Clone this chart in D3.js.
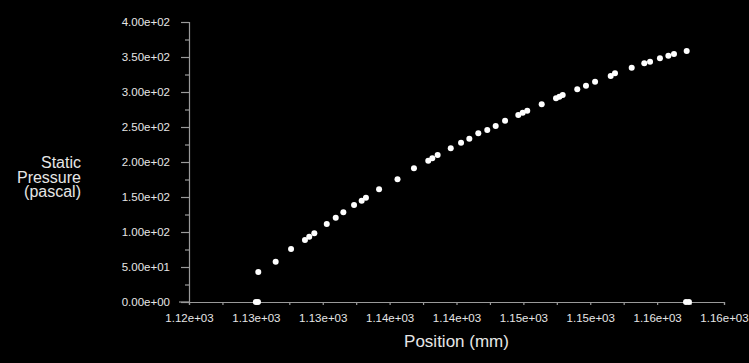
<!DOCTYPE html>
<html>
<head>
<meta charset="utf-8">
<script src="https://cdn.jsdelivr.net/npm/d3@7"></script>
<style>
  html, body { margin: 0; padding: 0; background: #000; }
  svg { display: block; font-family: "Liberation Sans", Arial, sans-serif; }
</style>
</head>
<body>
<div id="chart"></div>
<script>
// static pressure along the line
const positionMm = [
  1125.0, 1125.16, 1125.18, 1126.48, 1127.63, 1128.67, 1128.99, 1129.37, 1130.30, 1130.97,
  1131.54, 1132.34, 1132.91, 1133.23, 1134.21, 1135.59, 1136.82, 1137.89, 1138.19, 1138.59,
  1139.57, 1140.34, 1140.96, 1141.63, 1142.30, 1142.93, 1143.63, 1144.62, 1144.95, 1145.29,
  1146.37, 1147.44, 1147.69, 1147.94, 1149.03, 1149.68, 1150.36, 1151.53, 1151.85, 1153.10,
  1154.04, 1154.47, 1155.21, 1155.84, 1156.26, 1157.21, 1157.16, 1157.38
];
const pressurePa = [
  0, 0, 42.9, 57.6, 75.7, 88.6, 93.3, 98.1, 111.4, 120.5,
  128.1, 138.6, 144.8, 149.0, 161.0, 175.5, 191.0, 201.9, 205.2, 210.0,
  219.5, 227.6, 233.3, 241.0, 245.7, 251.4, 259.0, 267.0, 270.5, 273.3,
  282.4, 291.0, 293.3, 295.7, 303.8, 309.0, 314.7, 322.9, 326.7, 334.8,
  341.0, 343.3, 348.1, 351.9, 354.3, 358.6, 0, 0
];

const xTicks = [1120, 1125, 1130, 1135, 1140, 1145, 1150, 1155, 1160];
const xMinorTicks = [1122.5, 1127.5, 1132.5, 1137.5, 1142.5, 1147.5, 1152.5, 1157.5];
const yTicks = [0, 50, 100, 150, 200, 250, 300, 350, 400];
const yMinorTicks = [25, 75, 125, 175, 225, 275, 325, 375];
const yTitle = ['Static', 'Pressure', '(pascal)'];
const xTitle = 'Position (mm)';

const width = 749;
const height = 363;
const axisColor = '#9a9a9a';
const textColor = '#e6e6e6';

// fluent style exponent: 1.12e+03
function sci(v) {
  const s = v.toExponential(2);
  const [m, e] = s.split('e');
  const sign = e[0];
  const digits = e.slice(1).padStart(2, '0');
  return m + 'e' + sign + digits;
}

const svg = d3.select('#chart')
  .append('svg')
  .attr('width', width)
  .attr('height', height);

svg.append('rect')
  .attr('width', width)
  .attr('height', height)
  .attr('fill', '#000');

const x = d3.scaleLinear().domain([1120, 1160]).range([189, 724]);
const y = d3.scaleLinear().domain([0, 400]).range([302, 22]);

// y axis
const yAxis = svg.append('g').attr('transform', `translate(${x.range()[0]},0)`);
yAxis.call(d3.axisLeft(y).tickValues(yTicks).tickFormat(sci).tickSize(8).tickPadding(11));
yAxis.append('g').call(d3.axisLeft(y).tickValues(yMinorTicks).tickFormat('').tickSize(4))
  .select('.domain').remove();

// x axis
const xAxis = svg.append('g').attr('transform', `translate(0,${y.range()[0]})`);
xAxis.call(d3.axisBottom(x).tickValues(xTicks).tickFormat(sci).tickSize(3).tickPadding(9));
xAxis.append('g').call(d3.axisBottom(x).tickValues(xMinorTicks).tickFormat('').tickSize(3))
  .select('.domain').remove();

svg.selectAll('.domain').attr('stroke', axisColor).attr('stroke-width', 1.2);
svg.selectAll('.tick line').attr('stroke', axisColor).attr('stroke-width', 1.2);
svg.selectAll('.tick text')
  .attr('fill', textColor)
  .style('font-size', '11.5px')
  .style('font-family', '"Liberation Sans", Arial, sans-serif');

// extend x axis line a bit to the left like the original
svg.append('line')
  .attr('x1', x.range()[0] - 10).attr('x2', x.range()[0])
  .attr('y1', y(0)).attr('y2', y(0))
  .attr('stroke', axisColor).attr('stroke-width', 1.2);

// titles
svg.append('text')
  .attr('x', (x.range()[0] + x.range()[1]) / 2)
  .attr('y', 347)
  .attr('text-anchor', 'middle')
  .attr('fill', textColor)
  .style('font-size', '17px')
  .text(xTitle);

// one text element, stacked lines (tight spacing like the original)
svg.append('text')
  .attr('text-anchor', 'end')
  .attr('fill', textColor)
  .style('font-size', '16px')
  .selectAll('tspan')
  .data(yTitle)
  .enter()
  .append('tspan')
  .attr('x', 81)
  .attr('y', (d, i) => 168 + i * 14.5)
  .text(d => d);

// points
svg.append('g')
  .selectAll('circle')
  .data(positionMm.map((p, i) => [p, pressurePa[i]]))
  .enter()
  .append('circle')
  .attr('cx', d => x(d[0]))
  .attr('cy', d => y(d[1]))
  .attr('r', 3)
  .attr('fill', '#fff');
</script>
</body>
</html>
